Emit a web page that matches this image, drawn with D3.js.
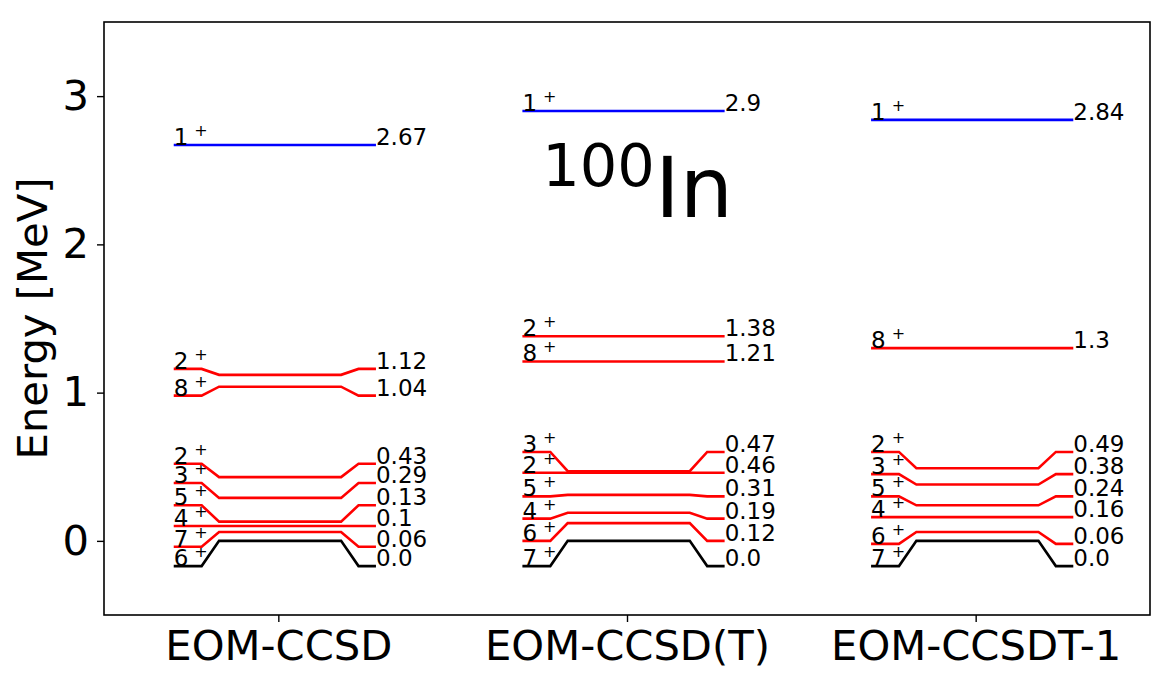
<!DOCTYPE html>
<html>
<head>
<meta charset="utf-8">
<script src="https://cdn.jsdelivr.net/npm/d3@7"></script>
<style>
  html, body { margin: 0; padding: 0; background: #fff; }
  svg { display: block; font-family: "DejaVu Sans", sans-serif; }
</style>
</head>
<body>
<svg id="chart" width="1174" height="687"></svg>
<script>
// ---- data ----
const methods = ["EOM-CCSD", "EOM-CCSD(T)", "EOM-CCSDT-1"];
const yTicks = [0, 1, 2, 3];

const ccsdSpins    = ["6", "7", "4", "5", "3", "2", "8", "2", "1"];
const ccsdEnergies = [0.0, 0.06, 0.1, 0.13, 0.29, 0.43, 1.04, 1.12, 2.67];
const ccsdLabelPos = [-0.17, -0.04, 0.1, 0.24, 0.39, 0.52, 0.98, 1.16, 2.67];

const ccsdtSpins    = ["7", "6", "4", "5", "2", "3", "8", "2", "1"];
const ccsdtEnergies = [0.0, 0.12, 0.19, 0.31, 0.46, 0.47, 1.21, 1.38, 2.9];
const ccsdtLabelPos = [-0.17, 0.0, 0.15, 0.3, 0.46, 0.6, 1.21, 1.38, 2.9];

const ccsdt1Spins    = ["7", "6", "4", "5", "3", "2", "8", "1"];
const ccsdt1Energies = [0.0, 0.06, 0.16, 0.24, 0.38, 0.49, 1.3, 2.84];
const ccsdt1LabelPos = [-0.17, -0.02, 0.16, 0.3, 0.45, 0.6, 1.3, 2.84];

const columns = [
  { spins: ccsdSpins, energies: ccsdEnergies, labelPos: ccsdLabelPos },
  { spins: ccsdtSpins, energies: ccsdtEnergies, labelPos: ccsdtLabelPos },
  { spins: ccsdt1Spins, energies: ccsdt1Energies, labelPos: ccsdt1LabelPos }
];

// ---- layout ----
const svg = d3.select("#chart");
const plot = { left: 104, right: 1150, top: 22, bottom: 615 };

const x = d3.scaleLinear().domain([-0.5, 2.5]).range([plot.left, plot.right]);
const y = d3.scaleLinear().domain([-0.5, 3.5]).range([plot.bottom, plot.top]);

const fontBig = 41.7;
const fontLbl = 23;
const fontSup = 16;

function color(spin, e) {
  if (e === 0) return "#000000";
  if (spin === "1") return "#0000ff";
  return "#ff0000";
}
function fmt(e) {
  return e === 0 ? "0.0" : String(e);
}

const line = d3.line().x(d => x(d[0])).y(d => y(d[1]));

// levels
columns.forEach((col, i) => {
  const g = svg.append("g");
  col.energies.forEach((e, k) => {
    const lp = col.labelPos[k];
    const pts = [
      [i - 0.3, lp], [i - 0.22, lp], [i - 0.17, e],
      [i + 0.18, e], [i + 0.23, lp], [i + 0.28, lp]
    ];
    g.append("path")
      .attr("d", line(pts))
      .attr("fill", "none")
      .attr("stroke", color(col.spins[k], e))
      .attr("stroke-width", 2.6)
      .attr("stroke-linejoin", "miter");

    const lt = g.append("text")
      .attr("x", x(i - 0.3))
      .attr("y", y(lp))
      .attr("font-size", fontLbl)
      .attr("fill", "#000");
    lt.append("tspan").text(col.spins[k]);
    lt.append("tspan")
      .attr("font-size", fontSup)
      .attr("dx", 6)
      .attr("dy", -9)
      .text("+");

    g.append("text")
      .attr("x", x(i + 0.28))
      .attr("y", y(lp))
      .attr("font-size", fontLbl)
      .attr("fill", "#000")
      .text(fmt(e));
  });
});

// title 100In
const title = svg.append("text")
  .attr("x", x(0.757))
  .attr("y", y(2.185))
  .attr("fill", "#000");
title.append("tspan").attr("font-size", 59).attr("dy", -31).text("100");
title.append("tspan").attr("font-size", 84).attr("dy", 31).text("In");

// frame
svg.append("rect")
  .attr("x", plot.left).attr("y", plot.top)
  .attr("width", plot.right - plot.left)
  .attr("height", plot.bottom - plot.top)
  .attr("fill", "none")
  .attr("stroke", "#000")
  .attr("stroke-width", 1.6);

// y axis
const yAxis = d3.axisLeft(y).tickValues(yTicks).tickSize(7).tickPadding(8).tickFormat(d3.format("d"));
const gy = svg.append("g").attr("transform", `translate(${plot.left},0)`).call(yAxis);
gy.select(".domain").remove();
gy.selectAll(".tick line").attr("stroke", "#000").attr("stroke-width", 1.4);
gy.selectAll(".tick text")
  .attr("font-size", fontBig)
  .attr("font-family", "DejaVu Sans, sans-serif")
  .attr("fill", "#000");

// x axis
const xAxis = d3.axisBottom(x).tickValues([0, 1, 2]).tickSize(7).tickPadding(8).tickFormat(i => methods[i]);
const gx = svg.append("g").attr("transform", `translate(0,${plot.bottom})`).call(xAxis);
gx.select(".domain").remove();
gx.selectAll(".tick line").attr("stroke", "#000").attr("stroke-width", 1.4);
gx.selectAll(".tick text")
  .attr("font-size", fontBig)
  .attr("font-family", "DejaVu Sans, sans-serif")
  .attr("fill", "#000");

// y label
svg.append("text")
  .attr("transform", `translate(47,${(plot.top + plot.bottom) / 2}) rotate(-90)`)
  .attr("text-anchor", "middle")
  .attr("font-size", fontBig)
  .attr("fill", "#000")
  .text("Energy [MeV]");
</script>
</body>
</html>
